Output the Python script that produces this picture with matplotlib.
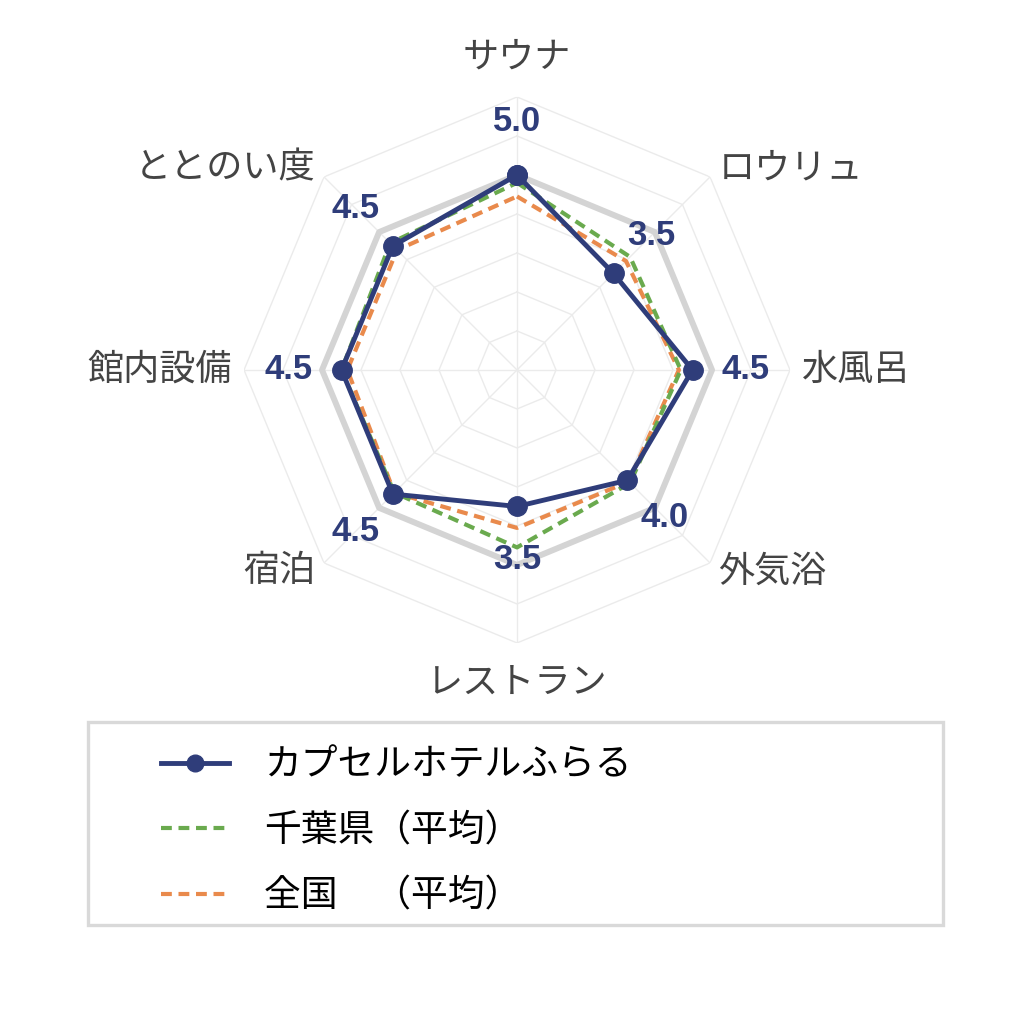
import numpy as np
import matplotlib.pyplot as plt
from matplotlib.lines import Line2D
from matplotlib.patches import Rectangle

plt.rcParams['font.family'] = ['Noto Sans CJK JP', 'DejaVu Sans']

categories = ['サウナ', 'ロウリュ', '水風呂', '外気浴', 'レストラン', '宿泊', '館内設備', 'ととのい度']
facility = [5.0, 3.5, 4.5, 4.0, 3.5, 4.5, 4.5, 4.5]
chiba_avg = [4.8, 4.1, 4.2, 4.1, 4.55, 4.45, 4.5, 4.6]
japan_avg = [4.45, 3.95, 4.15, 4.05, 4.05, 4.45, 4.35, 4.35]
series_names = ['カプセルホテルふらる', '千葉県（平均）', '全国\u3000（平均）']
max_score = 5
r_max = 7

navy = '#2f3d7a'
green = '#6aaa4e'
orange = '#e98a4c'

n = len(categories)
theta = np.arange(n) * 2 * np.pi / n
theta_c = np.append(theta, theta[0])

def closed(v):
    return np.append(v, v[0])

fig = plt.figure(figsize=(10.24, 10.24), dpi=100)
ax = fig.add_axes([0.2383, 0.3721, 0.5332, 0.5332], projection='polar')
ax.set_theta_zero_location('N')
ax.set_theta_direction(-1)
ax.set_ylim(0, r_max)
ax.set_xticks([])
ax.set_yticks([])
ax.grid(False)
ax.spines['polar'].set_visible(False)
ax.patch.set_alpha(0)

# octagon grid + spokes
for r in range(1, r_max + 1):
    ax.plot(theta_c, [r] * (n + 1), color='#ebebeb', lw=1.0, zorder=1)
for t in theta:
    ax.plot([t, t], [0, r_max], color='#ebebeb', lw=1.0, zorder=1)

# max score ring
ax.plot(theta_c, [max_score] * (n + 1), color='#d4d4d4', lw=4.3, zorder=2)

dash = (0, (2.6, 1.6))
ax.plot(theta_c, closed(japan_avg), color=orange, lw=3.0, ls=dash, zorder=3)
ax.plot(theta_c, closed(chiba_avg), color=green, lw=3.0, ls=dash, zorder=3)
ax.plot(theta_c, closed(facility), color=navy, lw=3.5, marker='o', ms=14, zorder=5)

# value labels
for t, v in zip(theta, facility):
    ax.text(t, v + 1.36, f'{v:.1f}', color=navy, fontsize=25, fontweight='bold',
            family='Liberation Sans', ha='center', va='center', zorder=6)

# category labels
for t, name in zip(theta, categories):
    deg = np.degrees(t)
    if deg == 0:
        ha, va, r = 'center', 'bottom', 7.55
    elif deg == 180:
        ha, va, r = 'center', 'top', 7.55
    elif deg < 180:
        ha, va, r = 'left', 'center', 7.3
    else:
        ha, va, r = 'right', 'center', 7.3
    ax.text(t, r, name, fontsize=26, color='#444444', ha=ha, va=va)

# legend
fig.patches.append(Rectangle((0.086, 0.0967), 0.835, 0.198, transform=fig.transFigure,
                             fill=False, edgecolor='#d9d9d9', lw=2.4))
handles = [
    Line2D([], [], color=navy, lw=3.5, marker='o', ms=12),
    Line2D([], [], color=green, lw=3.0, ls=dash),
    Line2D([], [], color=orange, lw=3.0, ls=dash),
]
fig.legend(handles, series_names, loc='upper left', bbox_to_anchor=(0.157, 0.272),
           frameon=False, fontsize=26.5, handlelength=1.85, handletextpad=0.95,
           labelspacing=0.72, borderpad=0, borderaxespad=0)

fig.savefig('out.png', dpi=100, facecolor='white')
